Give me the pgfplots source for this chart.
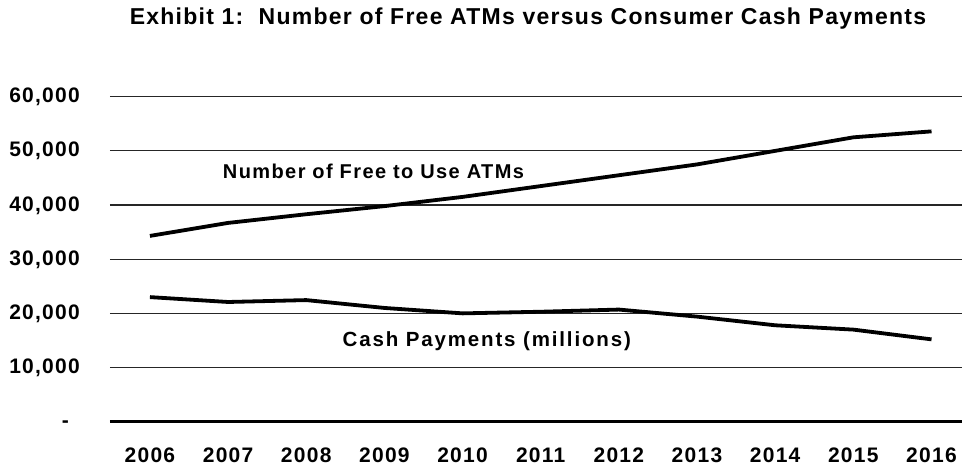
\documentclass[border=0pt]{standalone}
\usepackage{fontspec}
\setmainfont{Liberation Sans}
\newfontfamily\tickfont[LetterSpace=6]{Liberation Sans}
\newfontfamily\titlefont[LetterSpace=5.5]{Liberation Sans}
\newfontfamily\atmfont[LetterSpace=7]{Liberation Sans}
\newfontfamily\cashfont[LetterSpace=9]{Liberation Sans}
\usepackage{pgfplots}
\pgfplotsset{compat=1.18}

\pgfplotstableread{
year atms cash
2006 34300 23000
2007 36700 22100
2008 38300 22450
2009 39800 21000
2010 41500 20000
2011 43500 20300
2012 45500 20700
2013 47500 19400
2014 50000 17800
2015 52500 17000
2016 53600 15200
}\exhibit

\begin{document}
\begin{tikzpicture}
\useasboundingbox (-110pt,-44.3pt) rectangle (852pt,421.7pt);
\begin{axis}[
    scale only axis,
    width=852pt, height=325pt,
    xmin=2005.489, xmax=2016.39,
    ymin=0, ymax=60000,
    axis x line*=bottom,
    axis y line*=left,
    x axis line style={line width=3.5pt, black},
    y axis line style={draw=none},
    xtick={2006,...,2016},
    xticklabels={2006,2007,2008,2009,2010,2011,2012,2013,2014,2015,2016},
    ytick={0,10000,20000,30000,40000,50000,60000},
    yticklabels={{-\hspace*{11pt}},{10,000},{20,000},{30,000},{40,000},{50,000},{60,000}},
    scaled y ticks=false,
    major tick length=0pt,
    ymajorgrids,
    grid style={line width=1.2pt, black!85},
    tick label style={font=\tickfont\bfseries\fontsize{21}{24}\selectfont, inner sep=0pt},
    xticklabel style={anchor=base, yshift=-40.3pt},
    yticklabel style={anchor=base east, xshift=-30pt, yshift=-6pt},
    title={Exhibit 1:\ \ Number of Free ATMs versus Consumer Cash Payments},
    title style={font=\titlefont\bfseries\fontsize{23}{27}\selectfont,
        at={(axis description cs:0.4906,1.205)}, anchor=base, inner sep=0pt},
    clip=false,
]
\addplot[black, line width=3.8pt] table[x=year, y=atms] {\exhibit};
\addplot[black, line width=3.8pt] table[x=year, y=cash] {\exhibit};
\node[anchor=base, inner sep=0pt, font=\atmfont\bfseries\fontsize{20}{23}\selectfont]
    at (axis cs:2008.86,44930) {Number of Free to Use ATMs};
\node[anchor=base, inner sep=0pt, font=\cashfont\bfseries\fontsize{20.5}{23}\selectfont]
    at (axis cs:2010.31,13880) {Cash Payments (millions)};
\end{axis}
\end{tikzpicture}
\end{document}
